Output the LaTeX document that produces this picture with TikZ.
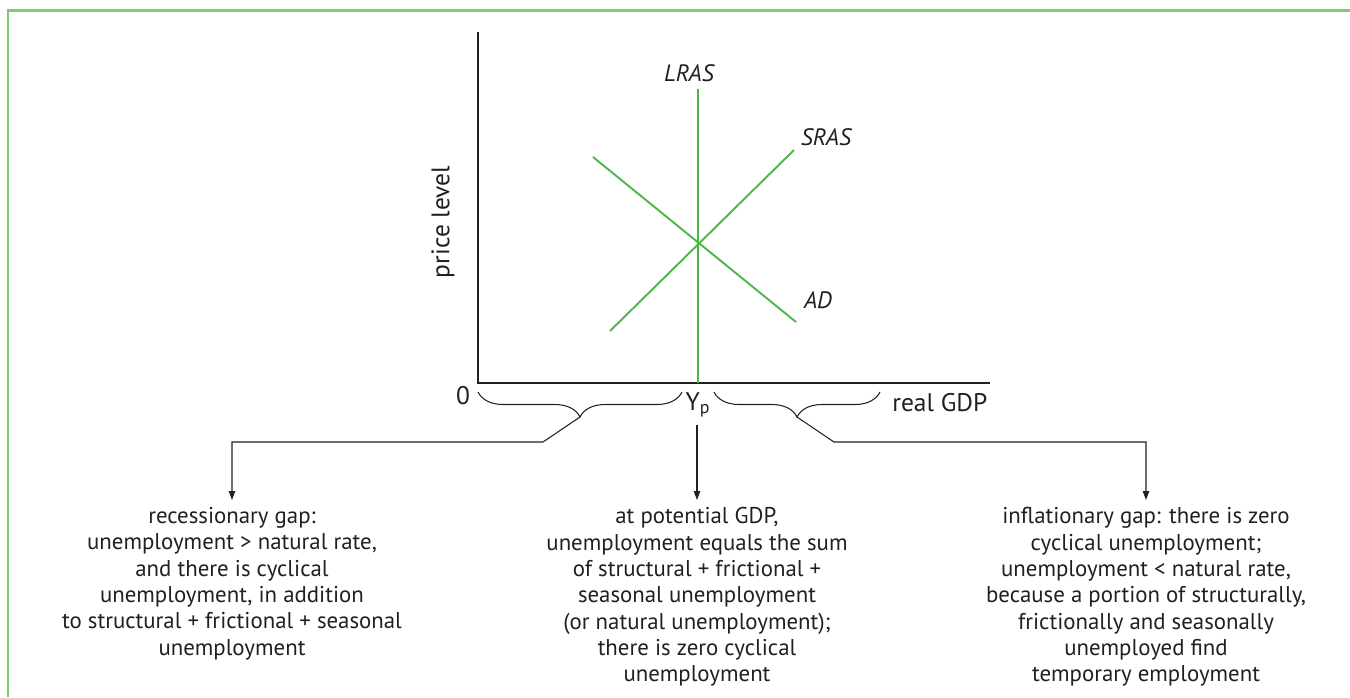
\documentclass[tikz,border=0pt]{standalone}
\usepackage{fontspec}
\setmainfont{PT Sans}
\usetikzlibrary{arrows.meta,positioning,decorations.pathreplacing}
\definecolor{curvegreen}{RGB}{77,184,72}
\definecolor{framegreen}{RGB}{125,206,115}
\definecolor{ink}{RGB}{35,31,32}

\begin{document}
\begin{tikzpicture}[
    x=0.02cm, y=-0.02cm,
    axis/.style={draw=ink, line width=1.1pt},
    curve/.style={draw=curvegreen, line width=1.1pt},
    lbl/.style={font=\fontsize{14.5}{17}\selectfont, text=ink, inner sep=0pt},
    curvelbl/.style={lbl, font=\fontsize{13.5}{16}\selectfont\itshape},
    gapbrace/.style={draw=ink, line width=0.6pt, decorate,
                 decoration={brace, mirror, amplitude=0.5cm}},
    note/.style={font=\fontsize{13}{15}\selectfont, text=ink, align=center,
                 inner sep=4pt, anchor=north},
    arr/.style={draw=ink, line width=0.6pt, -{Triangle[length=5pt, width=3.6pt]}},
  ]
  \useasboundingbox (0,0) rectangle (1350,697);
  \draw[framegreen, line width=1.2pt] (1350,10.5) -- (8,10.5) -- (8,697);

  % axes
  \coordinate (ytop)   at (478,32);
  \coordinate (origin) at (478,383);
  \coordinate (xend)   at (990,383);
  \draw[axis] (ytop) -- (origin) -- (xend);

  % curves
  \coordinate (lrastop)  at (698,89);
  \coordinate (lrasfoot) at (698,383);
  \coordinate (srasfoot) at (610,331);
  \coordinate (srastop)  at (794,150);
  \coordinate (adtop)    at (593,157);
  \coordinate (adfoot)   at (796,322);
  \draw[curve] (lrastop) -- (lrasfoot);
  \draw[curve] (srasfoot) -- (srastop);
  \draw[curve] (adtop) -- (adfoot);

  \node[curvelbl] (lraslbl) at (689,73)  {LRAS};
  \node[curvelbl] (sraslbl) at (826,137) {SRAS};
  \node[curvelbl] (adlbl)   at (818,300) {AD};

  \node[lbl, rotate=90] (ylbl) at (443,222) {price level};
  \node[lbl, anchor=base] (zero) at (463,404) {0};
  \node[lbl, anchor=base] (ypot) at (698,410) {Y\textsubscript{p}};
  \node[lbl, anchor=base west] (xlbl) at (892,411) {real GDP};

  % gaps
  \draw[gapbrace] (478,392) -- (682,392);
  \draw[gapbrace] (714,392) -- (880,392);
  \coordinate (recesstip) at (580,417);
  \coordinate (inflatip)  at (797,417);
  \coordinate (ypotfoot)  at (697,425);

  \node[note] (recess) at (232,500) {recessionary gap:\\
    unemployment > natural rate,\\
    and there is cyclical\\
    unemployment, in addition\\
    to structural + frictional + seasonal\\
    unemployment};
  \node[note] (potential) at (697,500) {at potential GDP,\\
    unemployment equals the sum\\
    of structural + frictional +\\
    seasonal unemployment\\
    (or natural unemployment);\\
    there is zero cyclical\\
    unemployment};
  \node[note] (inflation) at (1146,500) {inflationary gap: there is zero\\
    cyclical unemployment;\\
    unemployment < natural rate,\\
    because a portion of structurally,\\
    frictionally and seasonally\\
    unemployed find\\
    temporary employment};

  \draw[arr] (recesstip) -- ++(-37,25) -| (recess.north);
  \draw[arr] (ypotfoot) -- (potential.north);
  \draw[arr] (inflatip) -- ++(37,25) -| (inflation.north);
\end{tikzpicture}
\end{document}
